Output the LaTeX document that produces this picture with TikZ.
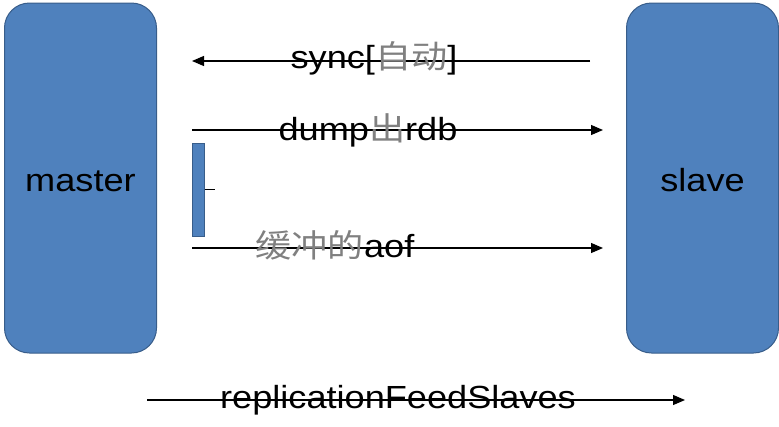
\documentclass[tikz,border=0pt]{standalone}
\usepackage{fontspec}
\setmainfont{Liberation Sans}[FakeStretch=1.13]
\newfontfamily\cjk{Noto Sans CJK SC}[FakeStretch=1.13]
\usetikzlibrary{arrows.meta}
\definecolor{boxblue}{RGB}{79,129,189}
\definecolor{boxline}{RGB}{56,93,138}
\newcommand{\zh}[1]{{\cjk\color{black!50}#1}}

\begin{document}
\begin{tikzpicture}
      [x=1pt,y=-1pt,every node/.style={inner sep=0pt,font=\fontsize{32}{36}\selectfont},
       server/.style={draw=boxline,fill=boxblue,line width=1pt,rounded corners=25pt,
                      minimum width=152pt,minimum height=350pt,text height=26pt,text depth=0pt},
       buffer/.style={draw=boxline,fill=boxblue,line width=1pt,minimum width=12pt,minimum height=93pt},
       msg/.style={-{Triangle[length=12pt,width=10pt]},line width=1.2pt},
       lbl/.style={anchor=base}]
      \useasboundingbox (0,0) rectangle (779,426);
      \node[server] (master) at (80.5,178) {master};
      \node[server] (slave) at (702.5,178) {slave};
      \node[buffer] (buf) at (198,189.5) {};

      % arrow ends
      \coordinate (syncS) at (590,61);
      \coordinate (syncE) at (192,61);
      \coordinate (dumpS) at (192,130);
      \coordinate (dumpE) at (603,130);
      \coordinate (aofS) at (192,248);
      \coordinate (aofE) at (603,248);
      \coordinate (feedS) at (147,400);
      \coordinate (feedE) at (685,400);
      \coordinate (tick) at (215,189.5);

      \foreach \from/\to in {syncS/syncE,dumpS/dumpE,aofS/aofE,feedS/feedE}
        \draw[msg] (\from) -- (\to);
      \draw[line width=1pt] (buf.east) -- (tick);

      \node[lbl] (synclbl) at (374,68)  {sync[\zh{自动}]};
      \node[lbl] (dumplbl) at (368,140) {dump\zh{出}rdb};
      \node[lbl] (aoflbl)  at (335,257) {\zh{缓冲的}aof};
      \node[lbl] (feedlbl) at (398,408) {replicationFeedSlaves};
    \end{tikzpicture}
\end{document}
